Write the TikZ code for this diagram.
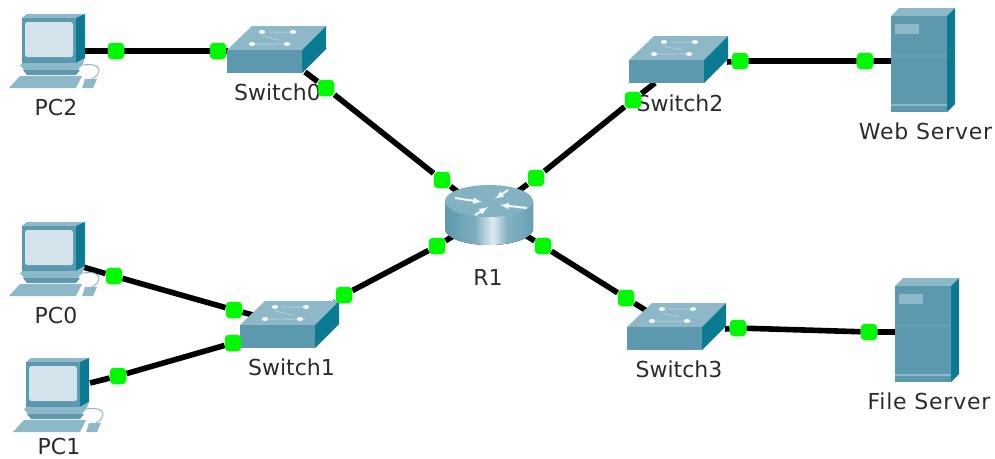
\documentclass[tikz,border=0pt]{standalone}
\usepackage{fontspec}
\setmainfont{DejaVu Sans}
\pgfdeclarelayer{bg}
\pgfsetlayers{bg,main}
\definecolor{front}{HTML}{5C99AE}
\definecolor{topf}{HTML}{8DB8C8}
\definecolor{sidef}{HTML}{0A7B93}
\definecolor{pale}{HTML}{D3E3EC}
\definecolor{labelc}{HTML}{2B2B2B}
\definecolor{dotg}{HTML}{00F800}
\pgfdeclarehorizontalshading{routerbody}{100bp}{
  color(0bp)=(front!85!black); color(25bp)=(front); color(42bp)=(front!80!white);
  color(52bp)=(front!20!white); color(60bp)=(front!75!white); color(80bp)=(front);
  color(100bp)=(front!75!black)}
\tikzset{
  x=1pt,y=-1pt,
  link/.style={line width=5.6pt,black},
  dotnode/.style={rectangle,rounded corners=4pt,fill=dotg,minimum size=16.5pt,inner sep=0pt},
  lab/.style={text=labelc,font=\fontsize{22pt}{24pt}\selectfont,inner sep=0pt},
  srvlab/.style={lab,execute at begin node={\addfontfeature{LetterSpace=3.5}}},
  pc/.pic={
    \fill[topf] (22,18)--(27,14)--(85,14)--(76,18)--cycle;
    \fill[sidef] (76,18)--(85,14)--(85,58)--(76,63)--cycle;
    \fill[front] (22,18) rectangle (76,63);
    \fill[pale,rounded corners=2.5pt] (25,22) rectangle (73,57);
    \fill[topf] (22,63)--(76,63)--(85,58)--(82,66)--(20,66)--cycle;
    \fill[topf] (20,65)--(82,65)--(78,70)--(24,70)--cycle;
    \fill[front] (23,70)--(80,70)--(76,75)--(27,75)--cycle;
    \fill[topf] (20,76)--(82,76)--(76,88)--(9,88)--cycle;
    \fill[topf] (85,79)--(97,79)--(93,88)--(82,88)--cycle;
    \draw[topf,line width=1pt] (83,65) .. controls (103,62) and (102,74) .. (92,79);
  },
  sw/.pic={
    \fill[topf] (0,0)--(25,-24)--(99,-24)--(75,0)--cycle;
    \fill[sidef] (75,0)--(99,-24)--(99,-1)--(75,23)--cycle;
    \fill[front] (0,0) rectangle (75,23);
    \draw[white!30!topf,line width=1pt] (25,-6)--(65,-6) (42,-18)--(66,-18) (35,-14)--(52,-10);
    \foreach \p in {(25,-6),(60,-6),(35,-18),(66,-18)}{\fill[white!90!topf] \p ellipse (3.2 and 2);}
  },
  srv/.pic={
    \fill[topf] (0,0)--(8,-8)--(64,-8)--(56,0)--cycle;
    \fill[sidef] (56,0)--(64,-8)--(64,88)--(56,96)--cycle;
    \fill[front] (0,0) rectangle (56,96);
    \fill[topf] (4,8) rectangle (28,18);
    \fill[front!85!topf] (0,38) rectangle (56,41);
    \fill[topf] (0,88) rectangle (56,90);
  },
}
\begin{document}
\begin{tikzpicture}
\useasboundingbox (0,0) rectangle (995,458);
% icons
\pic at (0,0) {pc};
\pic at (0,208) {pc};
\pic at (4,344) {pc};
\pic at (227,50) {sw};
\pic at (240,325) {sw};
\pic at (629,60) {sw};
\pic at (627,327) {sw};
\pic at (891,16) {srv};
\pic at (895,286) {srv};
% router
\fill[shading=routerbody] (445,201) -- (445,229) arc[start angle=180,end angle=0,x radius=44,y radius=16] -- (533,201) -- cycle;
\fill[topf!80!front] (489,201) ellipse (44 and 16);
\foreach \a/\b in {{455,198}/{482,202},{508,190}/{495,199},{527,208}/{500,205},{475,215}/{488,207}}{
  \draw[white!90!topf,line width=2pt,-latex] (\a) -- (\b);
}
% port coordinates
\coordinate (pc2p) at (85,51);
\coordinate (sw0l) at (228,51);
\coordinate (sw0b) at (305,72);
\coordinate (r1nw) at (462,195);
\coordinate (r1ne) at (517,192);
\coordinate (sw2b) at (655,83);
\coordinate (sw2r) at (727,62);
\coordinate (webp) at (892,61);
\coordinate (pc0p) at (83,267);
\coordinate (sw1a) at (253,315);
\coordinate (pc1p) at (90,383);
\coordinate (sw1b) at (245,339);
\coordinate (sw1r) at (335,302);
\coordinate (r1sw) at (455,235);
\coordinate (r1se) at (525,235);
\coordinate (sw3a) at (650,313);
\coordinate (sw3r) at (725,329);
\coordinate (filep) at (896,332);
% labels
\node[lab] (lpc2) at (56,107) {PC2};
\node[lab] (lpc0) at (56,315) {PC0};
\node[lab] (lpc1) at (59,446) {PC1};
\node[lab] (lsw0) at (277.5,92) {Switch0};
\node[lab] (lsw1) at (291.5,367) {Switch1};
\node[lab] (lsw2) at (680,103) {Switch2};
\node[lab] (lsw3) at (679,369) {Switch3};
\node[lab] (lr1) at (488,277) {R1};
\node[srvlab] (lweb) at (925.5,131) {Web Server};
\node[srvlab] (lfile) at (929,401) {File Server};
% link lights
\node[dotnode] (a1) at (116,51) {};
\node[dotnode] (a2) at (218,51) {};
\node[dotnode] (b1) at (326,88) {};
\node[dotnode] (b2) at (442,180) {};
\node[dotnode] (c1) at (536,178) {};
\node[dotnode] (c2) at (633,100) {};
\node[dotnode] (d1) at (740,61) {};
\node[dotnode] (d2) at (865,61) {};
\node[dotnode] (e1) at (114,276) {};
\node[dotnode] (e2) at (234,310) {};
\node[dotnode] (f1) at (118,376) {};
\node[dotnode] (f2) at (233,343) {};
\node[dotnode] (g1) at (344,295) {};
\node[dotnode] (g2) at (437,246) {};
\node[dotnode] (h1) at (543,246) {};
\node[dotnode] (h2) at (626,298) {};
\node[dotnode] (i1) at (738,328) {};
\node[dotnode] (i2) at (869,332) {};
\begin{pgfonlayer}{bg}
\draw[link] (pc2p) -- (a1) -- (a2) -- (sw0l);
\draw[link] (sw0b) -- (b1) -- (b2) -- (r1nw);
\draw[link] (r1ne) -- (c1) -- (c2) -- (sw2b);
\draw[link] (sw2r) -- (d1) -- (d2) -- (webp);
\draw[link] (pc0p) -- (e1) -- (e2) -- (sw1a);
\draw[link] (pc1p) -- (f1) -- (f2) -- (sw1b);
\draw[link] (sw1r) -- (g1) -- (g2) -- (r1sw);
\draw[link] (r1se) -- (h1) -- (h2) -- (sw3a);
\draw[link] (sw3r) -- (i1) -- (i2) -- (filep);
\end{pgfonlayer}
\end{tikzpicture}
\end{document}
